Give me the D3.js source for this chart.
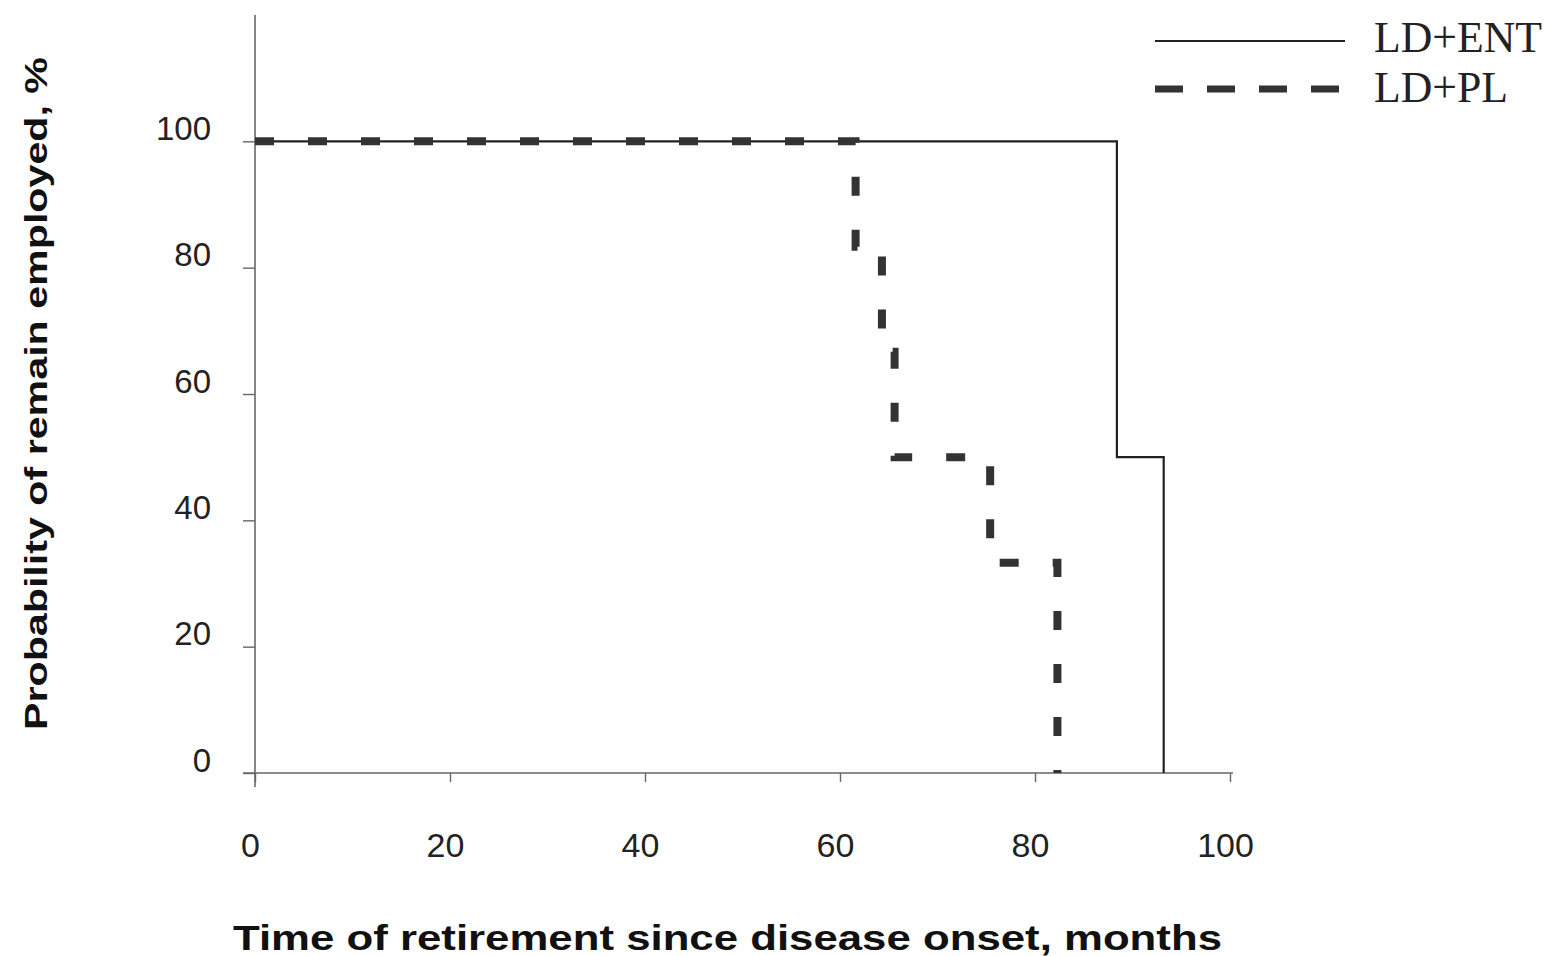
<!DOCTYPE html>
<html><head><meta charset="utf-8">
<script src="https://cdn.jsdelivr.net/npm/d3@7"></script>
<style>body{margin:0;background:#fff}svg{display:block}</style>
</head><body>
<svg id="c" width="1553" height="956"></svg>
<script>
// Data
const xTicks = [0, 20, 40, 60, 80, 100];
const yTicks = [0, 20, 40, 60, 80, 100];
const entTime = [0, 88.4, 93.2];
const entSurv = [100, 50, 0];
const plTime = [0, 61.6, 64.3, 65.6, 75.4, 82.3];
const plSurv = [100, 83.3, 66.7, 50, 33.3, 0];
const seriesNames = ["LD+ENT", "LD+PL"];
const xTitle = "Time of retirement since disease onset, months";
const yTitle = "Probability of remain employed, %";

const svg = d3.select("#c");
const x = d3.scaleLinear().domain([0, 100]).range([255, 1230]);
const y = d3.scaleLinear().domain([0, 120]).range([773, 15]);

const axisCol = "#666";
// x axis
const gx = svg.append("g").attr("transform", `translate(0,${y(0)})`)
  .call(d3.axisBottom(x).tickValues(xTicks).tickSize(9).tickSizeOuter(0).tickPadding(51));
gx.select(".domain").attr("stroke", axisCol).attr("stroke-width", 1.6).attr("d", `M${x(0)-12},0H${x(100)+3}`);
gx.selectAll(".tick line").attr("stroke", axisCol).attr("stroke-width", 1.4);
gx.selectAll(".tick text").attr("font-family", "Liberation Sans, Arial, sans-serif")
  .attr("font-size", 34).attr("fill", "#222").attr("dx", -5);

// y axis
const gy = svg.append("g").attr("transform", `translate(${x(0)},0)`)
  .call(d3.axisLeft(y).tickValues(yTicks).tickSize(12).tickSizeOuter(0).tickPadding(32));
gy.select(".domain").attr("stroke", axisCol).attr("stroke-width", 1.6).attr("d", `M0,${y(120)}V${y(0)+14}`);
gy.selectAll(".tick line").attr("stroke", axisCol).attr("stroke-width", 1.4);
gy.selectAll(".tick text").attr("font-family", "Liberation Sans, Arial, sans-serif")
  .attr("font-size", 33).attr("fill", "#222").attr("dy", "-0.06em");

// lines
const line = d3.line().x(d => x(d[0])).y(d => y(d[1])).curve(d3.curveStepAfter);
const entData = entTime.map((t, i) => [t, entSurv[i]]);
const plData = plTime.map((t, i) => [t, plSurv[i]]);

svg.append("path").attr("d", line(entData)).attr("fill", "none")
  .attr("stroke", "#222").attr("stroke-width", 2.2);
svg.append("path").attr("d", line(plData)).attr("fill", "none")
  .attr("stroke", "#333").attr("stroke-width", 8).attr("stroke-dasharray", "19,34");

// legend
const lg = svg.append("g");
lg.append("line").attr("x1", 1155).attr("x2", 1345).attr("y1", 41).attr("y2", 41)
  .attr("stroke", "#222").attr("stroke-width", 2);
lg.append("line").attr("x1", 1155).attr("x2", 1345).attr("y1", 89).attr("y2", 89)
  .attr("stroke", "#333").attr("stroke-width", 7).attr("stroke-dasharray", "28,24");
lg.append("text").attr("x", 1374).attr("y", 52).text(seriesNames[0])
  .attr("font-family", "Liberation Serif, Times New Roman, serif").attr("font-size", 44).attr("fill", "#222")
  .attr("textLength", 168).attr("lengthAdjust", "spacingAndGlyphs");
lg.append("text").attr("x", 1374).attr("y", 102).text(seriesNames[1])
  .attr("font-family", "Liberation Serif, Times New Roman, serif").attr("font-size", 44).attr("fill", "#222")
  .attr("textLength", 134).attr("lengthAdjust", "spacingAndGlyphs");

// titles
svg.append("text").attr("x", 233).attr("y", 950).text(xTitle)
  .attr("font-family", "Liberation Sans, Arial, sans-serif").attr("font-weight", "bold")
  .attr("font-size", 35).attr("fill", "#111")
  .attr("textLength", 989).attr("lengthAdjust", "spacingAndGlyphs");
svg.append("text").attr("transform", "translate(47,730) rotate(-90)").text(yTitle)
  .attr("font-family", "Liberation Sans, Arial, sans-serif").attr("font-weight", "bold")
  .attr("font-size", 32).attr("fill", "#111")
  .attr("textLength", 673).attr("lengthAdjust", "spacingAndGlyphs");
</script>
</body></html>
